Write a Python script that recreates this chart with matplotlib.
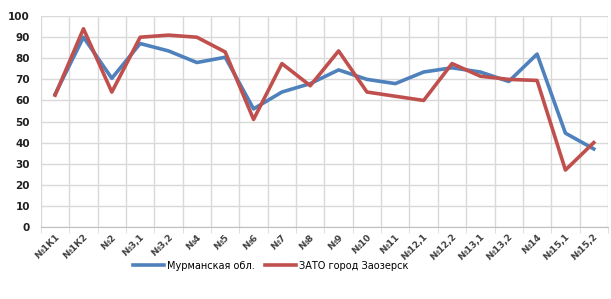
import matplotlib
matplotlib.use('Agg')
import matplotlib.pyplot as plt
from matplotlib.ticker import MultipleLocator, FixedLocator

# Categories and values
categories = ['№1К1', '№1К2', '№2', '№3,1', '№3,2', '№4', '№5', '№6', '№7', '№8',
              '№9', '№10', '№11', '№12,1', '№12,2', '№13,1', '№13,2', '№14', '№15,1', '№15,2']
murmansk = [63, 90, 70.5, 87, 83.5, 78, 80.5, 56, 64, 68,
            74.5, 70, 68, 73.5, 75.5, 73.5, 69, 82, 44.5, 37]
zaozersk = [62.5, 94, 64, 90, 91, 90, 83, 51, 77.5, 67,
            83.5, 64, 62, 60, 77.5, 71.5, 70, 69.5, 27, 40]

fig = plt.figure(figsize=(6.11, 2.99), dpi=100)
ax = fig.add_axes([0.067, 0.241, 0.928, 0.705])

x = range(len(categories))
ax.plot(x, murmansk, color='#4F81BD', linewidth=2.6, label='Мурманская обл.', zorder=3)
ax.plot(x, zaozersk, color='#C0504D', linewidth=2.6, label='ЗАТО город Заозерск', zorder=3)

ax.set_xlim(-0.5, len(categories) - 0.5)
ax.set_ylim(0, 100)
ax.yaxis.set_major_locator(MultipleLocator(10))
ax.set_xticks(list(x))
ax.set_xticklabels(categories, rotation=45, ha='right', rotation_mode='anchor',
                   fontsize=6.5, fontweight='bold', color='#404040')
ax.xaxis.set_minor_locator(FixedLocator([i - 0.5 for i in range(len(categories) + 1)]))
ax.tick_params(axis='y', labelsize=7.5, length=0, pad=8, labelcolor='#202020')
for lbl in ax.get_yticklabels():
    lbl.set_fontweight('bold')
ax.tick_params(axis='x', which='major', length=0, pad=4)
ax.tick_params(axis='x', which='minor', length=4, color='#D9D9D9')

ax.grid(axis='y', color='#D9D9D9', linewidth=1)
ax.grid(axis='x', which='minor', color='#D9D9D9', linewidth=1)
ax.set_axisbelow(True)
for side in ['left', 'right', 'top']:
    ax.spines[side].set_visible(False)
ax.spines['bottom'].set_color('#BFBFBF')

fig.legend(loc='center', bbox_to_anchor=(0.443, 0.112), ncol=2, frameon=False,
           fontsize=7, handlelength=3.2, columnspacing=1.0, handletextpad=0.3)

plt.savefig('out.png', dpi=100)
plt.close()
